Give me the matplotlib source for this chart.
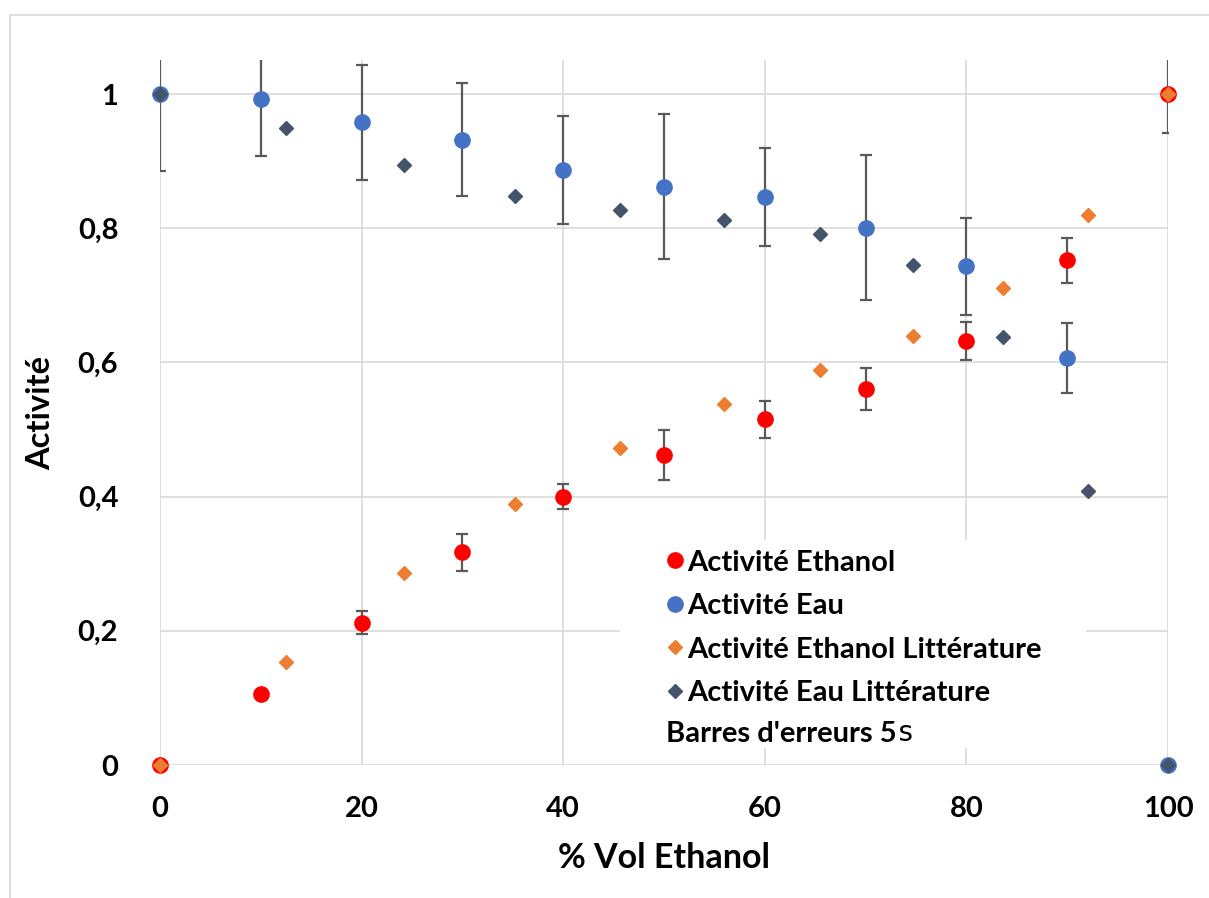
import matplotlib
matplotlib.use("Agg")
import matplotlib.pyplot as plt
from matplotlib.lines import Line2D
from matplotlib.patches import Rectangle

plt.rcParams['font.family'] = ['Lato', 'DejaVu Sans']
plt.rcParams['font.weight'] = 'bold'

# experimental data
x_exp = [0, 10, 20, 30, 40, 50, 60, 70, 80, 90, 100]
act_eth = [0, 0.106, 0.212, 0.317, 0.400, 0.462, 0.515, 0.560, 0.632, 0.752, 1.0]
err_eth = [0, 0.005, 0.017, 0.028, 0.019, 0.037, 0.028, 0.031, 0.028, 0.034, 0.058]
act_eau = [1.0, 0.993, 0.958, 0.932, 0.887, 0.862, 0.846, 0.801, 0.743, 0.607, 0]
err_eau = [0.115, 0.086, 0.086, 0.084, 0.080, 0.108, 0.073, 0.108, 0.072, 0.052, 0]

# literature data
x_lit = [0, 12.5, 24.2, 35.2, 45.6, 56.0, 65.5, 74.7, 83.6, 92.1, 100]
act_eth_lit = [0, 0.153, 0.286, 0.389, 0.472, 0.538, 0.588, 0.639, 0.711, 0.820, 1.0]
act_eau_lit = [1.0, 0.949, 0.894, 0.848, 0.827, 0.812, 0.791, 0.745, 0.638, 0.408, 0]

labels = ['Activité Ethanol', 'Activité Eau', 'Activité Ethanol Littérature', 'Activité Eau Littérature']
xticks = [0, 20, 40, 60, 80, 100]
yticks = [0, 0.2, 0.4, 0.6, 0.8, 1]
ytick_labels = ['0', '0,2', '0,4', '0,6', '0,8', '1']

c_red = '#FF0000'
c_blue = '#4472C4'
c_orange = '#ED7D31'
c_dark = '#44546A'
c_err = '#595959'

fig = plt.figure(figsize=(12.09, 8.98), dpi=100)
ax = fig.add_axes([160 / 1209, 133 / 898, 1008 / 1209, 704.5 / 898])

# chart border
fig.patches.append(Rectangle((10 / 1209, -0.1), 2, (898 - 15) / 898 + 0.1, transform=fig.transFigure,
                             fill=False, edgecolor='#d9d9d9', linewidth=1.2))

# error bars
ax.errorbar(x_exp, act_eth, yerr=err_eth, fmt='none', ecolor=c_err, elinewidth=1.6, capsize=4.5, capthick=1.6, zorder=2)
ax.errorbar(x_exp, act_eau, yerr=err_eau, fmt='none', ecolor=c_err, elinewidth=1.6, capsize=4.5, capthick=1.6, zorder=2)

ax.plot(x_exp, act_eth, 'o', color=c_red, ms=11, ls='none', clip_on=False, zorder=3)
ax.plot(x_exp, act_eau, 'o', color=c_blue, ms=11, ls='none', clip_on=False, zorder=3)
ax.plot(x_lit, act_eth_lit, 'D', color=c_orange, ms=7.5, ls='none', clip_on=False, zorder=4)
ax.plot(x_lit, act_eau_lit, 'D', color=c_dark, ms=7.5, ls='none', clip_on=False, zorder=4)

ax.set_xlim(0, 100)
ax.set_ylim(0, 1.05)
ax.set_xticks(xticks)
ax.set_yticks(yticks)
ax.set_yticklabels(ytick_labels)
ax.tick_params(length=0, labelsize=21)
ax.tick_params(axis='x', pad=22)
ax.tick_params(axis='y', pad=30)
ax.grid(True, color='#d9d9d9', linewidth=1.2)
ax.set_axisbelow(True)
for s in ax.spines.values():
    s.set_visible(False)

ax.set_xlabel('% Vol Ethanol', fontsize=24.5, fontweight='bold', labelpad=15)
ax.set_ylabel('Activité', fontsize=23.5, fontweight='bold', labelpad=16)

# legend background
ax.add_patch(Rectangle((620, 150), 466, 208, transform=None, facecolor='white', edgecolor='none', zorder=1.5))

handles = [
    Line2D([], [], marker='o', color=c_red, ls='none', ms=11),
    Line2D([], [], marker='o', color=c_blue, ls='none', ms=11),
    Line2D([], [], marker='D', color=c_orange, ls='none', ms=7.5),
    Line2D([], [], marker='D', color=c_dark, ls='none', ms=7.5),
]
leg = ax.legend(handles, labels, loc='upper left', bbox_to_anchor=(652 / 1209, 1 - 535 / 898),
                bbox_transform=fig.transFigure, frameon=False, handlelength=0.6,
                handletextpad=0.12, labelspacing=0.6, borderpad=0, prop={'weight': 'bold', 'size': 21})
t1 = fig.text(666 / 1209, 1 - 734 / 898, "Barres d'erreurs 5", fontsize=21, fontweight='bold', va='center')
ax.annotate('s', xy=(1, 0), xycoords=t1, fontsize=21, fontweight='normal',
            family='DejaVu Sans Mono', va='bottom', ha='left', annotation_clip=False)

fig.savefig('out.png', dpi=100)
